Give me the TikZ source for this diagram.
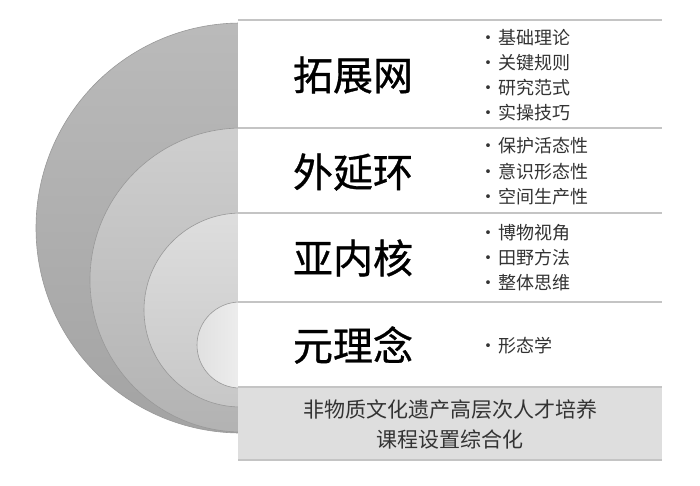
\documentclass[tikz,border=0pt]{standalone}
\usepackage{fontspec}
\setmainfont{Noto Sans CJK SC}
\newfontfamily\namefont[FakeBold=0.8]{Noto Sans CJK SC}
\definecolor{rowline}{HTML}{C4C4C4}
\definecolor{rowgray}{HTML}{DEDEDE}
\definecolor{itemtext}{HTML}{333333}
\newcommand{\dotitem}[1]{·\hspace{1pt}#1}
\tikzset{
  ring/.style={draw=black!40, line width=0.6pt},
  bigname/.style={font=\namefont\fontsize{40}{44}\selectfont, text=black},
  item/.style={font=\fontsize{18}{20}\selectfont, text=itemtext, anchor=west, inner sep=0pt},
  footer/.style={font=\fontsize{21}{30}\selectfont, text=itemtext, align=center}
}
\begin{document}
\begin{tikzpicture}[x=1pt,y=-1pt]
\useasboundingbox (0,0) rectangle (700,485);

% nested circles
\path[ring, top color=black!27, bottom color=black!36] (241,228) circle[radius=205pt];
\path[ring, top color=black!19, bottom color=black!30] (242,280) circle[radius=152pt];
\path[ring, top color=black!13, bottom color=black!22] (241,310) circle[radius=97pt];
\path[ring, left color=black!12, right color=black!2] (240,345) circle[radius=43pt];

% table
\fill[white] (238,20) rectangle (662,387);
\fill[rowgray] (238,387) rectangle (662,460);
\foreach \y in {20,128,213,302,387,460} {
  \draw[rowline, line width=1.2pt] (238,\y) -- (662,\y);
}

\node[bigname] (tuozhan) at (353,75) {拓展网};
\node[bigname] (waiyan) at (353,172) {外延环};
\node[bigname] (yanei) at (353,258) {亚内核};
\node[bigname] (yuanli) at (353,345) {元理念};

\node[item] (t1) at (479,38) {\dotitem{基础理论}};
\node[item] (t2) at (479,63) {\dotitem{关键规则}};
\node[item] (t3) at (479,88) {\dotitem{研究范式}};
\node[item] (t4) at (479,113) {\dotitem{实操技巧}};

\node[item] (w1) at (479,146) {\dotitem{保护活态性}};
\node[item] (w2) at (479,172) {\dotitem{意识形态性}};
\node[item] (w3) at (479,197) {\dotitem{空间生产性}};

\node[item] (y1) at (479,233) {\dotitem{博物视角}};
\node[item] (y2) at (479,258) {\dotitem{田野方法}};
\node[item] (y3) at (479,283) {\dotitem{整体思维}};

\node[item] (m1) at (479,346) {\dotitem{形态学}};

\node[footer] (kecheng) at (450,424) {非物质文化遗产高层次人才培养\\课程设置综合化};
\end{tikzpicture}
\end{document}
